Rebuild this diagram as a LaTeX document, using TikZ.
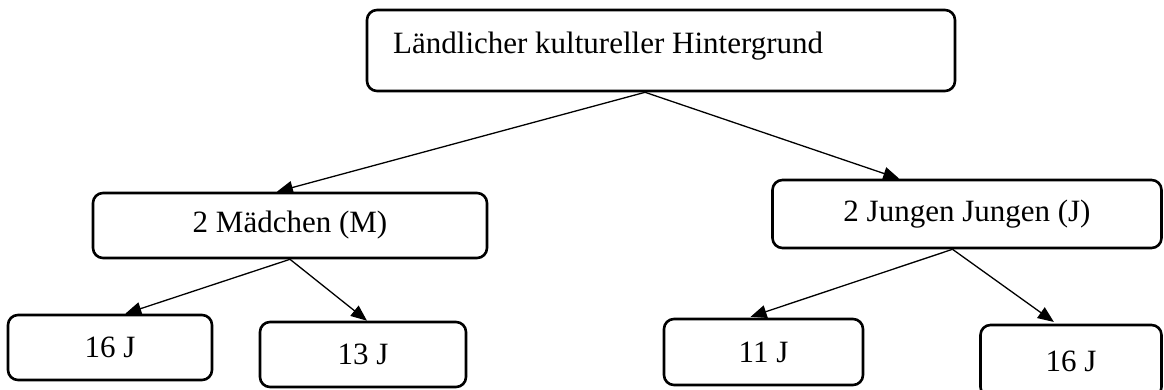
\documentclass[tikz,border=0pt]{standalone}
\usepackage{fontspec}
\setmainfont{Liberation Serif}
\usetikzlibrary{arrows.meta,calc}
\begin{document}
\begin{tikzpicture}[x=1pt,y=-1pt,
  box/.style={draw, line width=2.6pt, rounded corners=10pt, inner sep=0pt},
  link/.style={line width=1.3pt, -{Triangle[length=16pt,width=13pt]}},
  lbl/.style={font=\fontsize{31}{36}\selectfont}]
\useasboundingbox (0,0) rectangle (1164,390);

% top level
\node[box, minimum width=588pt, minimum height=81pt] (root) at (661,50.5) {};
\node[lbl, anchor=base west, inner sep=0pt] (roottext) at (393,54) {Ländlicher kultureller Hintergrund};

% second level
\node[box, lbl, minimum width=394pt, minimum height=65pt] (girls) at (290,225.5) {2 Mädchen (M)};
\node[box, lbl, minimum width=389pt, minimum height=68pt] (boys) at (967,214) {2 Jungen Jungen (J)};

% ages
\node[box, lbl, minimum width=204pt, minimum height=65pt] (g16) at (110,347.5) {16 J};
\node[box, lbl, minimum width=206pt, minimum height=65pt] (g13) at (363,354.5) {13 J};
\node[box, lbl, minimum width=199pt, minimum height=66pt] (b11) at (763.5,352) {11 J};
\node[box, lbl, minimum width=181pt, minimum height=72pt] (b16) at (1071,361) {16 J};

% attachment points on the box borders
\coordinate (rootout) at ($(root.south west)!0.473!(root.south east)$);
\coordinate (girlsin) at ($(girls.north west)!0.467!(girls.north east)$);
\coordinate (boysin)  at ($(boys.north west)!0.327!(boys.north east)$);
\coordinate (boysout) at ($(boys.south west)!0.463!(boys.south east)$);
\coordinate (g16in) at ($(g16.north west)!0.574!(g16.north east)$);
\coordinate (g13in) at ($(g13.north west)!0.519!(g13.north east)$);
\coordinate (b11in) at ($(b11.north west)!0.422!(b11.north east)$);
\coordinate (b16in) at ($(b16.north west)!0.42!(b16.north east)$);

\draw[link] (rootout) -- (girlsin);
\draw[link] (rootout) -- (boysin);
\draw[link] (girls.south) -- (g16in);
\draw[link] (girls.south) -- (g13in);
\draw[link, shorten >=3pt] (boysout) -- (b11in);
\draw[link, shorten >=3pt] (boysout) -- (b16in);
\end{tikzpicture}
\end{document}
